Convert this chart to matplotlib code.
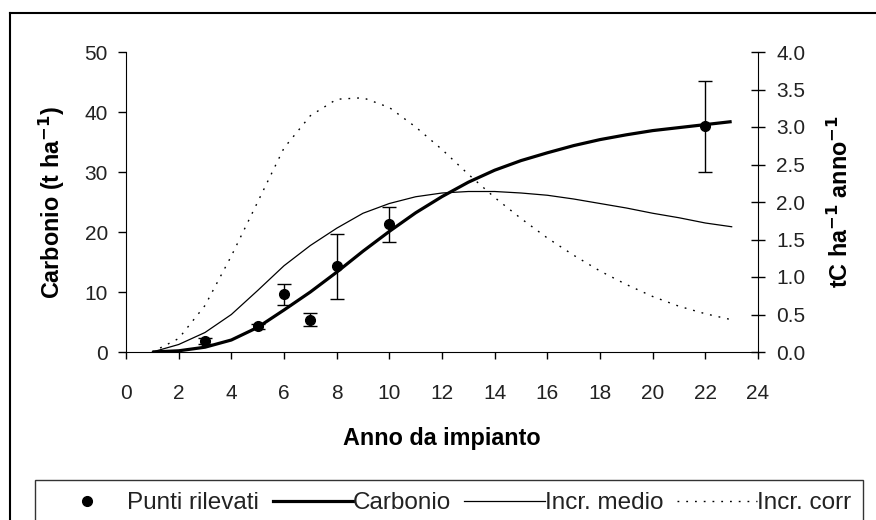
import numpy as np
import matplotlib
matplotlib.use('Agg')
import matplotlib.pyplot as plt
from matplotlib.lines import Line2D

plt.rcParams['font.family'] = ['Liberation Sans', 'DejaVu Sans']

# measured points (anno, carbonio t/ha, error)
anni_punti = [3, 5, 6, 7, 8, 10, 22]
carb_punti = [1.8, 4.3, 9.6, 5.4, 14.3, 21.3, 37.6]
err_punti = [0.5, 0.4, 1.8, 1.1, 5.4, 2.9, 7.6]

# model curves
anni = [1, 2, 3, 4, 5, 6, 7, 8, 9, 10, 11, 12, 13, 14, 15, 16, 17, 18, 19, 20, 21, 22, 23]
carbonio = [0.0, 0.2, 0.8, 2.0, 4.1, 7.0, 10.0, 13.3, 16.8, 20.1, 23.2, 25.9, 28.3, 30.3,
            31.9, 33.2, 34.4, 35.4, 36.2, 36.9, 37.4, 37.9, 38.4]
incr_medio = [0.0, 0.1, 0.26, 0.5, 0.82, 1.15, 1.42, 1.65, 1.85, 1.98, 2.07, 2.12, 2.14, 2.14,
              2.12, 2.09, 2.04, 1.98, 1.92, 1.85, 1.79, 1.72, 1.67]
incr_corr = [0.0, 0.18, 0.62, 1.28, 2.0, 2.72, 3.15, 3.37, 3.39, 3.26, 3.0, 2.7, 2.37, 2.06,
             1.78, 1.52, 1.29, 1.08, 0.9, 0.74, 0.61, 0.51, 0.43]

fig = plt.figure(figsize=(8.76, 5.2), dpi=100)
ax = fig.add_axes([126/876, 1-352/520, (758-126)/876, (352-52)/520])
ax2 = ax.twinx()

ax.plot(anni, carbonio, color='black', lw=2.3, solid_capstyle='butt', zorder=3)
ax.errorbar(anni_punti, carb_punti, yerr=err_punti, fmt='o', color='black', ms=7,
            elinewidth=1.0, capsize=5, capthick=1.0, zorder=4)
ax2.plot(anni, incr_medio, color='black', lw=0.9)
ax2.plot(anni, incr_corr, color='black', lw=1.0, linestyle=(0, (1.3, 5)))

ax.set_xlim(0, 24)
ax.set_ylim(0, 50)
ax2.set_ylim(0, 4.0)
ax.set_xticks(range(0, 25, 2))
ax.set_yticks(range(0, 51, 10))
ax2.set_yticks(np.arange(0, 4.01, 0.5))
ax2.set_yticklabels([f'{v:.1f}' for v in np.arange(0, 4.01, 0.5)])

for a in (ax, ax2):
    a.spines['top'].set_visible(False)
    a.patch.set_visible(False)
ax2.spines['left'].set_visible(False)
ax2.spines['bottom'].set_visible(False)
ax.spines['right'].set_visible(False)

tick_col = '#222222'
ax.tick_params(axis='y', direction='out', length=6, width=1, labelsize=15, pad=7, labelcolor=tick_col)
ax.tick_params(axis='x', direction='out', length=5, width=1, labelsize=15, pad=18, labelcolor=tick_col)
ax2.tick_params(axis='y', direction='inout', length=10, width=1, labelsize=15, pad=8, labelcolor=tick_col)

ax.set_xlabel('Anno da impianto', fontsize=16.8, fontweight='bold', labelpad=17)
ax.set_ylabel('Carbonio (t ha$^{\\mathbf{-1}}$)', fontsize=16.8, fontweight='bold', labelpad=13)
ax2.set_ylabel('tC ha$^{\\mathbf{-1}}$ anno$^{\\mathbf{-1}}$', fontsize=16.8, fontweight='bold', labelpad=16)

# outer frame (left and top edges visible)
fig.add_artist(Line2D([10/876, 10/876], [0, 1-13/520], transform=fig.transFigure, color='black', lw=1.5))
fig.add_artist(Line2D([10/876, 1], [1-13/520, 1-13/520], transform=fig.transFigure, color='black', lw=1.5))

handles = [
    Line2D([], [], color='black', marker='o', ms=7, linestyle='none'),
    Line2D([], [], color='black', lw=2.3),
    Line2D([], [], color='black', lw=0.9),
    Line2D([], [], color='black', lw=1.0, linestyle=(0, (1.3, 5))),
]
labels = ['Punti rilevati', 'Carbonio', 'Incr. medio', 'Incr. corr']
leg = fig.legend(handles, labels, loc='upper left', bbox_to_anchor=(35/876, 1-480/520),
                 ncol=4, frameon=True, fancybox=False, edgecolor='black', fontsize=17.5,
                 labelcolor=tick_col, handlelength=3.3, handletextpad=0.0, columnspacing=0.55,
                 borderpad=0.5, borderaxespad=0)
leg.get_frame().set_linewidth(1.0)

plt.savefig('out.png', dpi=100)
